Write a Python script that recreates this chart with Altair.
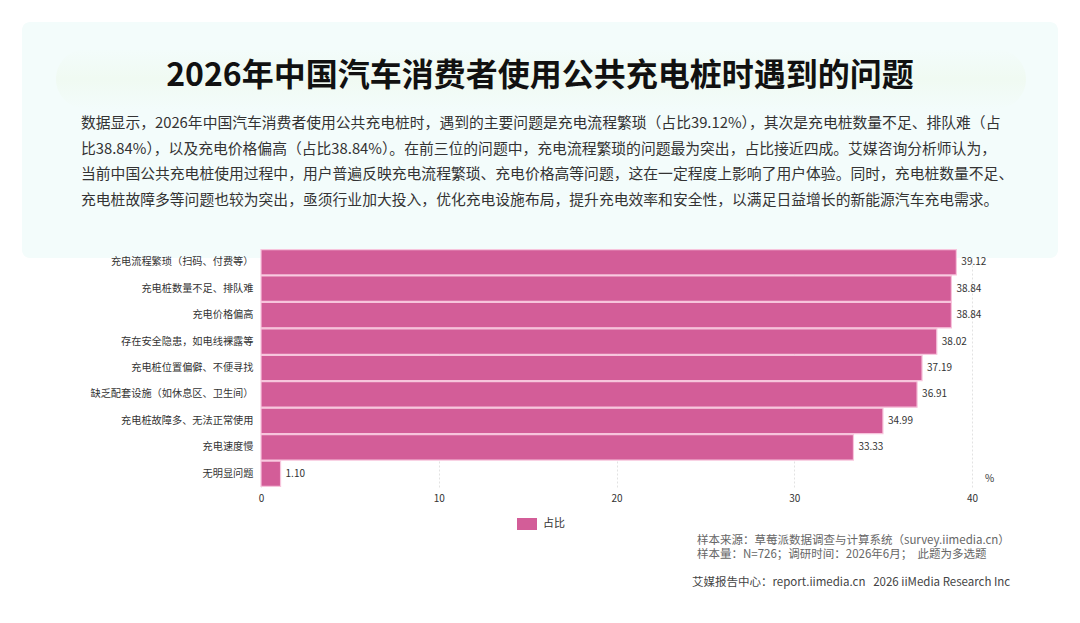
import altair as alt
import pandas as pd

categories = [
    "充电流程繁琐（扫码、付费等）",
    "充电桩数量不足、排队难",
    "充电价格偏高",
    "存在安全隐患，如电线裸露等",
    "充电桩位置偏僻、不便寻找",
    "缺乏配套设施（如休息区、卫生间）",
    "充电桩故障多、无法正常使用",
    "充电速度慢",
    "无明显问题",
]
values = [39.12, 38.84, 38.84, 38.02, 37.19, 36.91, 34.99, 33.33, 1.10]
series_name = "占比"
x_ticks = [0, 10, 20, 30, 40]

title_text = "2026年中国汽车消费者使用公共充电桩时遇到的问题"
para_lines = [
    "数据显示，2026年中国汽车消费者使用公共充电桩时，遇到的主要问题是充电流程繁琐（占比39.12%），其次是充电桩数量不足、排队难（占",
    "比38.84%），以及充电价格偏高（占比38.84%）。在前三位的问题中，充电流程繁琐的问题最为突出，占比接近四成。艾媒咨询分析师认为，",
    "当前中国公共充电桩使用过程中，用户普遍反映充电流程繁琐、充电价格高等问题，这在一定程度上影响了用户体验。同时，充电桩数量不足、",
    "充电桩故障多等问题也较为突出，亟须行业加大投入，优化充电设施布局，提升充电效率和安全性，以满足日益增长的新能源汽车充电需求。",
]
source_lines = [
    "样本来源：草莓派数据调查与计算系统（survey.iimedia.cn）",
    "样本量：N=726；调研时间：2026年6月；\u00a0\u00a0此题为多选题",
]
footer_text = "艾媒报告中心：report.iimedia.cn\u00a0\u00a0\u00a02026 iiMedia Research Inc"

FONT = "Noto Sans CJK SC"
BAR = "#d35d98"

df = pd.DataFrame({"问题": categories, "占比值": values, "系列": series_name})
one = pd.DataFrame({"a": [0]})

W, H = 711, 238

panel = alt.Chart(one).mark_rect(color="#f3fcfb", cornerRadius=8).encode(
    x=alt.value(-239), x2=alt.value(797), y=alt.value(-227), y2=alt.value(9)
)
glow = alt.Chart(one).mark_rect(
    cornerRadius=30,
    fill={
        "gradient": "linear", "x1": 0, "y1": 0, "x2": 0, "y2": 1,
        "stops": [
            {"offset": 0, "color": "#f3fcfb"},
            {"offset": 0.5, "color": "#f0faf2"},
            {"offset": 1, "color": "#f3fcfb"},
        ],
    },
).encode(x=alt.value(-205), x2=alt.value(765), y=alt.value(-200), y2=alt.value(-140))

ycat = alt.Y(
    "问题:N",
    sort=categories,
    scale=alt.Scale(paddingInner=0.04, paddingOuter=0.02),
    axis=alt.Axis(
        title=None, ticks=False, domain=False, labelPadding=8, zindex=2,
        labelFontSize=10.2, labelColor="#333333", labelFont=FONT, labelLimit=300,
    ),
)
xq = alt.X(
    "占比值:Q",
    scale=alt.Scale(domain=[0, 40], nice=False),
    axis=alt.Axis(
        values=x_ticks, title="%", titleX=728, titleY=-4, titleAlign="center",
        titleBaseline="bottom", titleFontSize=10, titleFontWeight="normal",
        titleColor="#333333", titleFont=FONT, labelFlush=False,
        ticks=False, domain=False, labelPadding=6, labelFontSize=10,
        labelColor="#333333", labelFont=FONT,
        grid=True, gridColor="#e2e2e2", gridDash=[2, 2], gridWidth=1,
    ),
)

bars = alt.Chart(df).mark_bar(stroke="#f7c4dc", strokeWidth=1.2).encode(
    y=ycat,
    x=xq,
    color=alt.Color(
        "系列:N",
        scale=alt.Scale(range=[BAR]),
        legend=alt.Legend(
            title=None, orient="none", legendX=256, legendY=265,
            symbolType="M-1,-0.6L1,-0.6L1,0.6L-1,0.6Z", symbolSize=400,
            symbolStrokeWidth=0, labelFontSize=11, labelColor="#333333",
            labelFont=FONT, labelOffset=6,
        ),
    ),
)

labels = alt.Chart(df).mark_text(
    align="left", baseline="middle", dx=5, fontSize=10, color="#333333", font=FONT
).encode(
    y=alt.Y("问题:N", sort=categories),
    x="占比值:Q",
    text=alt.Text("占比值:Q", format=".2f"),
)

title = alt.Chart(one).mark_text(
    text=title_text, fontSize=32, fontWeight="bold", color="#111111",
    font=FONT, align="center", baseline="middle",
).encode(x=alt.value(279), y=alt.value(-173))

para = alt.Chart(one).mark_text(
    text=para_lines, fontSize=14.8, color="#333333", font=FONT,
    align="left", baseline="middle", lineHeight=25.7,
).encode(x=alt.value(-180), y=alt.value(-125))

source = alt.Chart(one).mark_text(
    text=source_lines, fontSize=11.5, color="#666666", font=FONT,
    align="left", baseline="middle", lineHeight=14,
).encode(x=alt.value(436), y=alt.value(292))

footer = alt.Chart(one).mark_text(
    text=footer_text, fontSize=11.5, color="#444444", font=FONT,
    align="left", baseline="middle",
).encode(x=alt.value(431), y=alt.value(334))

chart = alt.layer(panel, glow, title, para, bars, labels, source, footer).properties(
    width=W, height=H,
    autosize=alt.AutoSizeParams(type="none"),
    padding={"left": 253, "top": 241, "right": 96, "bottom": 118},
    background="white",
).configure_view(stroke=None)

chart.save("out.html", embed_options={"renderer": "svg", "actions": False})
